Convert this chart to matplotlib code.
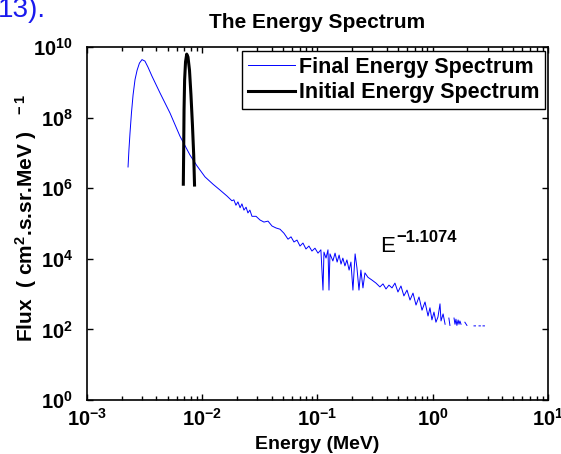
import numpy as np
import matplotlib
matplotlib.use("Agg")
import matplotlib.pyplot as plt
from matplotlib.ticker import LogLocator, NullFormatter, NullLocator

plt.rcParams['font.family'] = ['Liberation Sans', 'DejaVu Sans']
plt.rcParams['mathtext.fontset'] = 'custom'
plt.rcParams['mathtext.rm'] = 'Liberation Sans:bold'
plt.rcParams['mathtext.bf'] = 'Liberation Sans:bold'
plt.rcParams['mathtext.it'] = 'Liberation Sans:bold'
plt.rcParams['mathtext.default'] = 'rm'

nan = np.nan

# Final spectrum (energy in MeV, flux)
final_energy = [
    0.00227, 0.00231, 0.00236, 0.00243, 0.00251, 0.00261, 0.00272, 0.00285, 0.0030, 0.00318,
    0.00338, 0.00366, 0.0043, 0.00525, 0.0064, 0.00783, 0.0090, 0.01056, 0.0124, 0.01425,
    0.0164, 0.0181, 0.0188, 0.0196, 0.0204, 0.0213, 0.0221, 0.0230, 0.0240, 0.0249,
    0.0259, 0.0270, 0.0293, 0.0317, 0.0343, 0.0372, 0.0403, 0.0436, 0.0473, 0.0512,
    0.0555, 0.0589, 0.0625, 0.0664, 0.0705, 0.0748, 0.0794, 0.0843, 0.0895, 0.0951,
    0.101, 0.107, 0.1116, 0.1138, 0.1186, 0.1233, 0.1258, 0.1283, 0.136, 0.142,
    0.148, 0.154, 0.160, 0.166, 0.173, 0.180, 0.188, 0.195, 0.203, 0.212,
    0.220, 0.229, 0.238, 0.248, 0.258, 0.274, 0.297, 0.322, 0.348, 0.370,
    0.393, 0.417, 0.443, 0.470, 0.499, 0.530, 0.562, 0.598, 0.635, 0.674,
    0.716, 0.760, 0.807, 0.857, 0.910, 0.946, 0.984, 1.025, 1.066, 1.11,
    1.156, 1.18, 1.23, 1.28, nan, 1.38, 1.41, nan, 1.53, 1.56,
    1.59, 1.62, 1.66, 1.69, 1.72, 1.76, nan, 1.90, 1.98, nan,
    2.28, 2.35, nan, 2.52, 2.59, nan, 2.73, 2.81,
]
final_flux = [
    4.0e6, 1.2e7, 3.6e7, 1.35e8, 4.4e8, 1.2e9, 2.2e9, 3.5e9, 4.4e9, 4.0e9,
    2.7e9, 1.5e9, 5.0e8, 1.35e8, 3.0e7, 8.7e6, 4.3e6, 2.1e6, 1.3e6, 8.9e5,
    6.0e5, 4.4e5, 4.7e5, 3.3e5, 4.1e5, 2.8e5, 3.6e5, 2.4e5, 2.9e5, 2.0e5,
    2.4e5, 1.6e5, 1.6e5, 1.26e5, 1.1e5, 1.17e5, 8.5e4, 7.5e4, 6.9e4, 5.3e4,
    3.6e4, 4.2e4, 3.0e4, 3.4e4, 2.3e4, 2.8e4, 1.9e4, 2.3e4, 1.66e4, 2.0e4,
    1.45e4, 1.8e4, 1.3e3, 1.55e4, 1.05e4, 1.8e4, 1.3e3, 1.38e4, 8.7e3, 1.45e4,
    8.1e3, 1.28e4, 7.1e3, 1.05e4, 6.3e3, 9.3e3, 4.8e3, 8.1e3, 1.3e3, 1.38e4,
    5.5e3, 1.3e3, 4.8e3, 1.5e3, 4.0e3, 3.0e3, 2.5e3, 2.05e3, 1.6e3, 1.95e3,
    1.4e3, 1.8e3, 1.5e3, 2.05e3, 1.15e3, 1.7e3, 8.9e2, 1.3e3, 6.8e2, 1.07e3,
    4.9e2, 8.3e2, 3.5e2, 6.0e2, 2.4e2, 4.1e2, 1.86e2, 3.1e2, 1.6e2, 2.25e2,
    5.3e2, 1.74e2, 2.75e2, 1.4e2, nan, 2.1e2, 1.3e2, nan, 2.1e2, 1.4e2,
    1.95e2, 1.3e2, 1.85e2, 1.4e2, 1.74e2, 1.4e2, nan, 1.6e2, 1.3e2, nan,
    1.26e2, 1.26e2, nan, 1.26e2, 1.26e2, nan, 1.26e2, 1.26e2,
]

# Initial spectrum
initial_energy = [0.00685, 0.00690, 0.00695, 0.00703, 0.00716, 0.00733,
                  0.00752, 0.00775, 0.00798, 0.00822, 0.00843, 0.00857]
initial_flux = [1.3e6, 1.2e7, 1.65e8, 1.17e9, 3.8e9, 6.3e9,
                5.2e9, 2.2e9, 4.4e8, 6.2e7, 8.7e6, 1.23e6]

x_ticks = [1e-3, 1e-2, 1e-1, 1e0, 1e1]
x_labels = [r'$10^{-3}$', r'$10^{-2}$', r'$10^{-1}$', r'$10^{0}$', r'$10^{1}$']
y_ticks = [1e0, 1e2, 1e4, 1e6, 1e8, 1e10]
y_labels = [r'$10^{0}$', r'$10^{2}$', r'$10^{4}$', r'$10^{6}$', r'$10^{8}$', r'$10^{10}$']

fig = plt.figure(figsize=(5.61, 4.54), dpi=100)
ax = fig.add_axes([0.1551, 0.1189, 0.8217, 0.7775])

ax.plot(final_energy, final_flux, color='#0000ff', lw=0.7, label='Final Energy Spectrum')
ax.plot(initial_energy, initial_flux, color='black', lw=2.2, label='Initial Energy Spectrum')

ax.set_xscale('log')
ax.set_yscale('log')
ax.set_xlim(1e-3, 1e1)
ax.set_ylim(1e0, 1e10)

ax.set_xticks(x_ticks)
ax.set_xticklabels(x_labels)
ax.xaxis.set_minor_locator(LogLocator(base=10, subs=range(2, 10), numticks=20))
ax.xaxis.set_minor_formatter(NullFormatter())
ax.set_yticks(y_ticks)
ax.set_yticklabels(y_labels)
ax.yaxis.set_minor_locator(NullLocator())

ax.tick_params(which='both', direction='in', top=True, right=True, width=1)
ax.tick_params(which='major', length=4, labelsize=14.5)
ax.tick_params(which='minor', length=3)
ax.tick_params(axis='x', pad=6)
ax.tick_params(axis='y', pad=10)
for s in ax.spines.values():
    s.set_linewidth(1.2)

ax.set_title('The Energy Spectrum', fontsize=15, fontweight='bold', pad=14)
ax.set_xlabel('Energy (MeV)', fontsize=14, fontweight='bold', labelpad=4)

# y label starts at the bottom of the "Flux" word, like the original
fig.text(33 / 561, 1 - 342 / 454, r'Flux  ( cm$^{2}$.s.sr.MeV )  $^{\,-1}$',
         fontsize=15, fontweight='bold', rotation=90, rotation_mode='anchor',
         ha='left', va='baseline')

leg = ax.legend(loc='upper right', bbox_to_anchor=(0.9935, 0.9887), borderaxespad=0,
                fancybox=False, edgecolor='black', framealpha=1,
                prop={'weight': 'bold', 'size': 15.5}, handlelength=2.2,
                handletextpad=0.15, labelspacing=0.2, borderpad=0.27)
leg.get_frame().set_linewidth(1.0)

ax.text(0.348, 1.55e4, 'E', fontsize=16, color='black')
ax.text(0.48, 3.0e4, '\u22121.1074', fontsize=12, fontweight='bold', color='black')

fig.text(-0.004, 1 - 17 / 454, '13).', fontsize=20, color='#1a1aee', va='baseline')

fig.savefig('out.png', dpi=100)
